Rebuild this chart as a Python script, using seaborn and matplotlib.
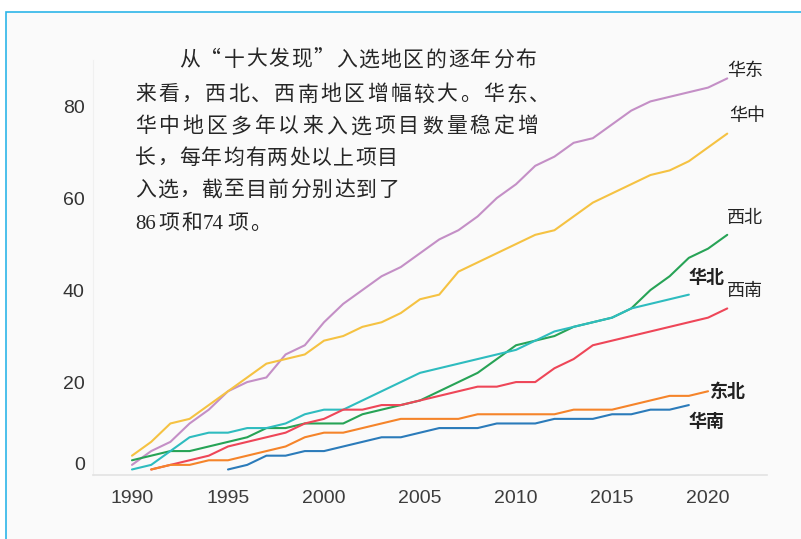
"""
Cumulative selections of the "Top Ten Archaeological Discoveries" by region.
"""

import pandas as pd
import matplotlib
matplotlib.use("Agg")
import matplotlib.pyplot as plt
import matplotlib.transforms as mtransforms
from matplotlib.patches import Rectangle
import seaborn as sns

# cumulative counts per region, one value per year starting at *_start
huadong_start = 1990
huadong = [2, 5, 7, 11, 14, 18, 20, 21, 26, 28,
           33, 37, 40, 43, 45, 48, 51, 53, 56, 60,
           63, 67, 69, 72, 73, 76, 79, 81, 82, 83,
           84, 86]

huazhong_start = 1990
huazhong = [4, 7, 11, 12, 15, 18, 21, 24, 25, 26,
            29, 30, 32, 33, 35, 38, 39, 44, 46, 48,
            50, 52, 53, 56, 59, 61, 63, 65, 66, 68,
            71, 74]

xibei_start = 1990
xibei = [3, 4, 5, 5, 6, 7, 8, 10, 10, 11,
         11, 11, 13, 14, 15, 16, 18, 20, 22, 25,
         28, 29, 30, 32, 33, 34, 36, 40, 43, 47,
         49, 52]

huabei_start = 1990
huabei = [1, 2, 5, 8, 9, 9, 10, 10, 11, 13,
          14, 14, 16, 18, 20, 22, 23, 24, 25, 26,
          27, 29, 31, 32, 33, 34, 36, 37, 38, 39]

xinan_start = 1991
xinan = [1, 2, 3, 4, 6, 7, 8, 9, 11,
         12, 14, 14, 15, 15, 16, 17, 18, 19, 19,
         20, 20, 23, 25, 28, 29, 30, 31, 32, 33,
         34, 36]

dongbei_start = 1991
dongbei = [1, 2, 2, 3, 3, 4, 5, 6, 8,
           9, 9, 10, 11, 12, 12, 12, 12, 13, 13,
           13, 13, 13, 14, 14, 14, 15, 16, 17, 17,
           18]

huanan_start = 1995
huanan = [1, 2, 4, 4, 5,
          5, 6, 7, 8, 8, 9, 10, 10, 10, 11,
          11, 11, 12, 12, 12, 13, 13, 14, 14, 15]

regions = ["华东", "华中", "西北", "华北", "西南", "东北", "华南"]
x_ticks = [1990, 1995, 2000, 2005, 2010, 2015, 2020]
y_ticks = [0, 20, 40, 60, 80]

paragraph = [
    "从“十大发现”入选地区的逐年分布",
    "来看，西北、西南地区增幅较大。华东、",
    "华中地区多年以来入选项目数量稳定增",
    "长，每年均有两处以上项目",
    "入选，截至目前分别达到了",
    "86项和74项。",
]

series = {
    "华东": (huadong_start, huadong),
    "华中": (huazhong_start, huazhong),
    "西北": (xibei_start, xibei),
    "华北": (huabei_start, huabei),
    "西南": (xinan_start, xinan),
    "东北": (dongbei_start, dongbei),
    "华南": (huanan_start, huanan),
}

rows = []
for name, (start, vals) in series.items():
    for i, v in enumerate(vals):
        rows.append({"region": name, "year": start + i, "count": v})
df = pd.DataFrame(rows)

colors = {
    "华东": "#c48fc6",
    "华中": "#f5c242",
    "西北": "#27a356",
    "华北": "#2ebcbf",
    "西南": "#ee4658",
    "东北": "#f5842a",
    "华南": "#2b7bba",
}

W, H = 801, 539
CJK = ["Noto Sans CJK SC", "DejaVu Sans"]

sns.set_theme(style="white")
plt.rcParams["font.family"] = ["Liberation Sans", "Noto Sans CJK SC", "DejaVu Sans"]

fig = plt.figure(figsize=(W / 100, H / 100), dpi=100, facecolor="white")

# cyan page frame (runs off the right and bottom edges)
frame = Rectangle((6 / W, -0.1), 1.2, (1 - 12 / H) + 0.1,
                  transform=fig.transFigure, facecolor="#fafafa",
                  edgecolor="#2cb5e8", linewidth=1.2, zorder=-1)
fig.add_artist(frame)

ax = fig.add_axes([93 / W, 64 / H, 674 / W, 415 / H])
ax.set_facecolor("none")

sns.lineplot(data=df, x="year", y="count", hue="region", hue_order=regions,
             palette=colors, estimator=None, linewidth=1.5, legend=False, ax=ax)

ax.set_xlim(1987.97, 2023.07)
ax.set_ylim(-0.2, 90)
ax.set_xticks(x_ticks)
ax.set_yticks(y_ticks)
ax.set_xlabel("")
ax.set_ylabel("")

for side in ["top", "right"]:
    ax.spines[side].set_visible(False)
ax.spines["bottom"].set_color("#e2e2e2")
ax.spines["bottom"].set_linewidth(1.2)
ax.spines["left"].set_color("#f0f0f0")
ax.spines["left"].set_linewidth(0.8)

ax.tick_params(axis="x", length=0, pad=11, labelsize=14, labelcolor="#3c3c3c")
ax.tick_params(axis="y", length=0, pad=6, labelsize=14, labelcolor="#333333")

# the "0" label sits a little above the baseline in the original
zero = ax.yaxis.get_major_ticks()[0].label1
zero.set_transform(zero.get_transform()
                   + mtransforms.ScaledTranslation(0, 0.11, fig.dpi_scale_trans))

# region names at the end of each line
label_style = {
    "华东": ((0, 7), "normal"),
    "华中": ((2, 18), "normal"),
    "西北": ((0, 17), "normal"),
    "华北": ((0, 17), "bold"),
    "西南": ((0, 17), "normal"),
    "东北": ((2, 0), "bold"),
    "华南": ((0, -16), "bold"),
}
for name, (start, vals) in series.items():
    offset, weight = label_style[name]
    ax.annotate(name, xy=(start + len(vals) - 1, vals[-1]), xytext=offset,
                textcoords="offset pixels", ha="left", va="center",
                fontsize=13, family=CJK, fontweight=weight, color="#222222")


# paragraph, laid out character by character to mimic justified type
def put_chars(text, x0, pitch, baseline, family=CJK):
    for k, ch in enumerate(text):
        x = x0 + k * pitch
        ha = "left"
        if ch == "“":
            x, ha = x + pitch - 3, "right"
        fig.text(x / W, 1 - baseline / H, ch, ha=ha, va="baseline",
                 fontsize=15, family=family, color="#262626")


put_chars(paragraph[0], 179, 22.4, 65.5)
put_chars(paragraph[1], 135, 23.2, 100.5)
put_chars(paragraph[2], 135, 23.9, 132.5)
put_chars(paragraph[3], 135, 22, 164)
put_chars(paragraph[4], 135, 22.1, 195.5)

line6 = paragraph[5]
serif = ["Liberation Serif", "DejaVu Serif"]
fig.text(135 / W, 1 - 229 / H, line6[0:2], ha="left", va="baseline",
         fontsize=15, family=serif, color="#262626")
put_chars(line6[2:4], 158, 23, 229)
fig.text(203 / W, 1 - 229 / H, line6[4:6], ha="left", va="baseline",
         fontsize=15, family=serif, color="#262626")
put_chars(line6[6:], 227, 23, 229)

fig.savefig("out.png", dpi=100, facecolor="white")
